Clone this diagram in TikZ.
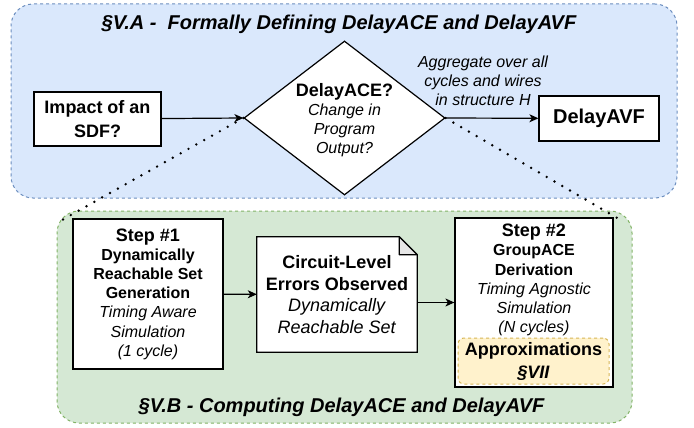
\documentclass[tikz,border=0pt]{standalone}
\usepackage{fontspec}
\setmainfont{Liberation Sans}
\usetikzlibrary{shapes.geometric,arrows.meta}
\definecolor{bluefill}{HTML}{DAE8FC}
\definecolor{blueline}{HTML}{6C8EBF}
\definecolor{greenfill}{HTML}{D5E8D4}
\definecolor{greenline}{HTML}{82B366}
\definecolor{yelfill}{HTML}{FFF2CC}
\definecolor{yelline}{HTML}{D6B656}
\definecolor{foldgray}{HTML}{E6E6E6}
\newcommand\setfs[2]{\fontsize{#1}{#2}\selectfont}
\begin{document}
\begin{tikzpicture}[x=1pt,y=-1pt,
  box/.style={draw=black, line width=1.2pt, fill=white, inner sep=0pt, align=center},
  txt/.style={inner sep=0pt, align=center},
  arr/.style={line width=1.2pt, -{Stealth[length=9pt,width=8pt,inset=2.5pt]}},
  dotline/.style={line width=2.7pt, line cap=round, dash pattern=on 0pt off 9pt},
  region/.style={rounded corners=22pt, line width=1pt, dash pattern=on 3pt off 3pt, inner sep=0pt},
]
\useasboundingbox (0,0) rectangle (694,428);
% containers
\node[region, draw=blueline, fill=bluefill, minimum width=666pt, minimum height=194pt] (regA) at (344,101) {};
\node[region, draw=greenline, fill=greenfill, minimum width=575pt, minimum height=212pt] (regB) at (344.5,317) {};
\node[txt, font=\setfs{20}{24}\bfseries\itshape] (titleA) at (339,24) {\S V.A -\ \ Formally Defining DelayACE and DelayAVF};
\node[txt, font=\setfs{20}{24}\bfseries\itshape] (titleB) at (341.5,407) {\S V.B - Computing DelayACE and DelayAVF};
% coordinates for dotted zoom lines
\coordinate (gl) at (62,220);
\coordinate (gr) at (624,222);
% top row
\node[box, minimum width=127pt, minimum height=54pt, font=\setfs{18}{24}\bfseries] (impact) at (97.5,119) {Impact of an\\ SDF?};
\node[diamond, draw=black, line width=1.2pt, fill=white, minimum width=201pt, minimum height=154pt, inner sep=0pt] (dec) at (344.5,118) {};
\node[txt, font=\setfs{16}{19.2}\itshape] (dectext) at (344.5,120) {{\setfs{18}{21.6}\bfseries\upshape DelayACE?}\\ Change in\\ Program\\ Output?};
\node[box, minimum width=120pt, minimum height=45pt, font=\setfs{20}{24}\bfseries] (avf) at (599,118.5) {DelayAVF};
\node[txt, font=\setfs{16}{19.2}\itshape] (agg) at (483,81) {Aggregate over all\\ cycles and wires\\ in structure H};
% bottom row
\node[box, minimum width=150pt, minimum height=150pt, font=\setfs{16}{19.2}] (step1) at (148,294) {{\setfs{18}{21.6}\bfseries Step \#1}\\ \textbf{Dynamically}\\ \textbf{Reachable Set}\\ \textbf{Generation}\\ \textit{Timing Aware}\\ \textit{Simulation}\\ \textit{(1 cycle)}};
\node[inner sep=0pt, minimum width=160pt, minimum height=115pt] (doc) at (337,294.5) {};
\draw[line width=1.2pt, fill=white] (doc.north west) -- ([xshift=-18pt]doc.north east) -- ([yshift=-18pt]doc.north east) -- (doc.south east) -- (doc.south west) -- cycle;
\draw[line width=1.2pt, fill=foldgray, line join=round] ([xshift=-18pt]doc.north east) -- ([xshift=-18pt,yshift=-18pt]doc.north east) -- ([yshift=-18pt]doc.north east) -- cycle;
\node[txt, font=\setfs{18}{21.6}] (doctext) at (doc.center) {\textbf{Circuit-Level}\\ \textbf{Errors Observed}\\ \textit{Dynamically}\\ \textit{Reachable Set}};
\node[box, minimum width=158pt, minimum height=169pt] (step2) at (534,302.5) {};
\node[txt, font=\setfs{16}{19.2}] (step2text) at (534,280) {{\setfs{18}{21.6}\bfseries Step \#2}\\ \textbf{GroupACE}\\ \textbf{Derivation}\\ \textit{Timing Agnostic}\\ \textit{Simulation}\\ \textit{(N cycles)}};
\node[txt, draw=yelline, fill=yelfill, dash pattern=on 3pt off 3pt, line width=1pt, rounded corners=6pt, minimum width=151pt, minimum height=46pt, font=\setfs{18}{23}\bfseries] (approx) at (533.5,361) {Approximations\\ \textit{\S VII}};
% connectors
\draw[arr] (impact) -- (dec.west);
\draw[arr] (dec.east) -- (avf);
\draw[arr] (step1) -- (doc);
\draw[arr] (doc.east |- step2.west) -- (step2.west);
\draw[dotline] (dec.west) -- (gl);
\draw[dotline] (dec.east) -- (gr);
\end{tikzpicture}
\end{document}
